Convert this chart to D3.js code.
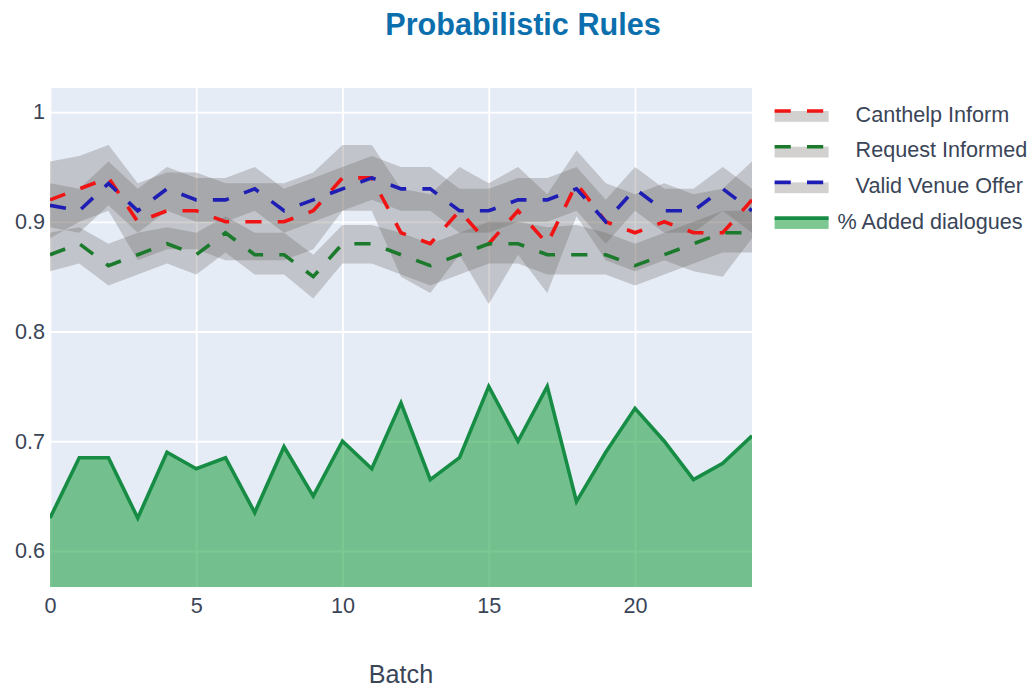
<!DOCTYPE html>
<html>
<head>
<meta charset="utf-8">
<script src="https://cdn.jsdelivr.net/npm/d3@7"></script>
<style>
  body { margin: 0; background: #ffffff; }
  svg text { font-family: "Liberation Sans", Arial, sans-serif; }
</style>
</head>
<body>
<svg id="chart" width="1035" height="688"></svg>
<script>
// ---- data -------------------------------------------------------------
const batches = [0,1,2,3,4,5,6,7,8,9,10,11,12,13,14,15,16,17,18,19,20,21,22,23,24];

const canthelpMean  = [0.92,0.93,0.94,0.90,0.91,0.91,0.90,0.90,0.90,0.91,0.94,0.94,0.89,0.88,0.91,0.88,0.91,0.88,0.935,0.90,0.89,0.90,0.89,0.89,0.92];
const canthelpUpper = [0.955,0.96,0.97,0.935,0.945,0.945,0.935,0.935,0.935,0.945,0.97,0.97,0.93,0.925,0.95,0.935,0.95,0.925,0.965,0.935,0.925,0.935,0.925,0.93,0.955];
const canthelpLower = [0.885,0.90,0.91,0.865,0.875,0.875,0.865,0.865,0.865,0.875,0.91,0.91,0.85,0.835,0.87,0.825,0.87,0.835,0.905,0.865,0.855,0.865,0.855,0.85,0.885];

const requestMean  = [0.87,0.88,0.86,0.87,0.88,0.87,0.89,0.87,0.87,0.85,0.88,0.88,0.87,0.86,0.87,0.88,0.88,0.87,0.87,0.87,0.86,0.87,0.88,0.89,0.89];
const requestUpper = [0.89,0.895,0.88,0.89,0.895,0.89,0.905,0.89,0.89,0.87,0.897,0.897,0.89,0.88,0.89,0.90,0.90,0.895,0.897,0.89,0.88,0.89,0.90,0.91,0.91];
const requestLower = [0.855,0.862,0.842,0.852,0.862,0.852,0.872,0.852,0.852,0.83,0.862,0.862,0.852,0.842,0.852,0.862,0.862,0.852,0.852,0.852,0.842,0.852,0.862,0.872,0.872];

const venueMean  = [0.915,0.91,0.935,0.91,0.93,0.92,0.92,0.93,0.91,0.92,0.93,0.94,0.93,0.93,0.91,0.91,0.92,0.92,0.93,0.90,0.93,0.91,0.91,0.93,0.91];
const venueUpper = [0.935,0.93,0.955,0.93,0.95,0.94,0.94,0.95,0.93,0.94,0.95,0.96,0.95,0.95,0.93,0.93,0.94,0.94,0.95,0.92,0.95,0.93,0.93,0.95,0.93];
const venueLower = [0.895,0.89,0.915,0.89,0.91,0.90,0.90,0.91,0.89,0.90,0.91,0.92,0.91,0.91,0.89,0.89,0.90,0.90,0.91,0.88,0.91,0.89,0.89,0.91,0.89];

const addedDialogues = [0.63,0.685,0.685,0.63,0.69,0.675,0.685,0.635,0.695,0.65,0.70,0.675,0.735,0.665,0.685,0.75,0.70,0.75,0.645,0.69,0.73,0.70,0.665,0.68,0.705];

const seriesNames = ["   Canthelp Inform", "   Request Informed", "   Valid Venue Offer", "% Added dialogues"];
const xTickValues = [0, 5, 10, 15, 20];
const yTickValues = [0.6, 0.7, 0.8, 0.9, 1];
const titleText = "Probabilistic Rules";
const xAxisTitle = "Batch";

// ---- layout -----------------------------------------------------------
const plot = { left: 50, right: 752, top: 88, bottom: 587 };
const bandFill = "rgba(108,104,100,0.3)";
const lineColors = ["#f01414", "#1c7a2c", "#1e1eb4"];
const areaLine = "#178c44";
const areaFill = "rgba(39,163,74,0.6)";
const textColor = "#3a4558";

const svg = d3.select("#chart");

const x = d3.scaleLinear().domain([0, 24]).range([plot.left, plot.right]);
const y = d3.scaleLinear().domain([0.5672, 1.0219]).range([plot.bottom, plot.top]);

// plot background
svg.append("rect")
  .attr("x", plot.left).attr("y", plot.top)
  .attr("width", plot.right - plot.left).attr("height", plot.bottom - plot.top)
  .attr("fill", "#e5ecf6");

// grid lines
const gx = svg.append("g")
  .attr("transform", `translate(0,${plot.bottom})`)
  .call(d3.axisBottom(x).tickValues(xTickValues).tickSize(-(plot.bottom - plot.top)).tickFormat(""));
gx.select(".domain").remove();
gx.selectAll("line").attr("stroke", "#ffffff").attr("stroke-width", 1.8);

const gy = svg.append("g")
  .attr("transform", `translate(${plot.left},0)`)
  .call(d3.axisLeft(y).tickValues(yTickValues).tickSize(-(plot.right - plot.left)).tickFormat(""));
gy.select(".domain").remove();
gy.selectAll("line").attr("stroke", "#ffffff").attr("stroke-width", 1.8);

// clip to plot area
svg.append("clipPath").attr("id", "plotClip")
  .append("rect")
  .attr("x", plot.left).attr("y", plot.top)
  .attr("width", plot.right - plot.left).attr("height", plot.bottom - plot.top);

const layer = svg.append("g").attr("clip-path", "url(#plotClip)");

const bands = [
  { upper: canthelpUpper, lower: canthelpLower },
  { upper: requestUpper,  lower: requestLower },
  { upper: venueUpper,    lower: venueLower }
];
const means = [canthelpMean, requestMean, venueMean];

const bandArea = (b) => d3.area()
  .x((d, i) => x(batches[i]))
  .y0((d, i) => y(b.lower[i]))
  .y1((d, i) => y(b.upper[i]));

bands.forEach(b => {
  layer.append("path")
    .attr("d", bandArea(b)(batches))
    .attr("fill", bandFill);
});

const meanLine = (vals) => d3.line()
  .x((d, i) => x(batches[i]))
  .y((d, i) => y(vals[i]));

means.forEach((vals, k) => {
  layer.append("path")
    .attr("d", meanLine(vals)(batches))
    .attr("fill", "none")
    .attr("stroke", lineColors[k])
    .attr("stroke-width", 3.6)
    .attr("stroke-dasharray", "16.2,16.2");
});

// % added dialogues, filled down to the axis
const addedArea = d3.area()
  .x((d, i) => x(batches[i]))
  .y0(y(y.domain()[0]))
  .y1((d, i) => y(addedDialogues[i]));
layer.append("path")
  .attr("d", addedArea(batches))
  .attr("fill", areaFill);
layer.append("path")
  .attr("d", meanLine(addedDialogues)(batches))
  .attr("fill", "none")
  .attr("stroke", areaLine)
  .attr("stroke-width", 3.6)
  .attr("stroke-linejoin", "miter");

// tick labels
const ax = svg.append("g")
  .attr("transform", `translate(0,${plot.bottom})`)
  .call(d3.axisBottom(x).tickValues(xTickValues).tickSize(0).tickPadding(11).tickFormat(d3.format("d")));
ax.select(".domain").remove();
ax.selectAll("text").attr("font-size", 21.6).attr("fill", textColor)
  .style("font-family", '"Liberation Sans", Arial, sans-serif');

const ay = svg.append("g")
  .attr("transform", `translate(${plot.left},0)`)
  .call(d3.axisLeft(y).tickValues(yTickValues).tickSize(0).tickPadding(5).tickFormat(d => d3.format("~g")(d)));
ay.select(".domain").remove();
ay.selectAll("text").attr("font-size", 21.6).attr("fill", textColor)
  .style("font-family", '"Liberation Sans", Arial, sans-serif');

// title and axis title
svg.append("text")
  .attr("x", 523).attr("y", 35)
  .attr("text-anchor", "middle")
  .attr("font-size", 30.6).attr("font-weight", "bold")
  .attr("fill", "#0b6fad")
  .text(titleText);

svg.append("text")
  .attr("x", (plot.left + plot.right) / 2).attr("y", 683)
  .attr("text-anchor", "middle")
  .attr("font-size", 25.2)
  .attr("fill", textColor)
  .text(xAxisTitle);

// legend
const legend = svg.append("g").attr("transform", "translate(765.6,0)");
const legendRowY = [111, 146.7, 182.4, 218.1];
seriesNames.forEach((name, k) => {
  const g = legend.append("g").attr("transform", `translate(0,${legendRowY[k]})`);
  const isArea = k === 3;
  g.append("rect")
    .attr("x", 9).attr("y", 0).attr("width", 54).attr("height", 10.8)
    .attr("fill", isArea ? areaFill : bandFill);
  g.append("line")
    .attr("x1", 9).attr("x2", 63).attr("y1", 0).attr("y2", 0)
    .attr("stroke", isArea ? areaLine : lineColors[k])
    .attr("stroke-width", 3.6)
    .attr("stroke-dasharray", isArea ? null : "16.2,16.2");
  g.append("text")
    .attr("x", 72).attr("y", 10.5)
    .attr("font-size", 21.6)
    .attr("fill", textColor)
    .style("white-space", "pre")
    .attr("xml:space", "preserve")
    .text(name);
});
</script>
</body>
</html>
